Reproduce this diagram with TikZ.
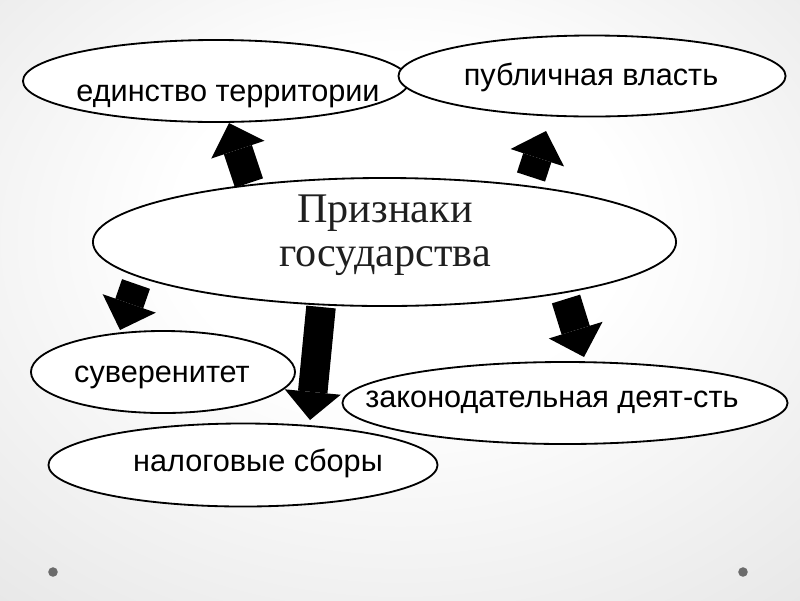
\documentclass[tikz,border=0pt]{standalone}
\usepackage{fontspec}
\setmainfont{Liberation Sans}
\newfontfamily\titleserif{Liberation Serif}
\usetikzlibrary{shapes.geometric, arrows.meta}

\pgfdeclareradialshading{slidebg}{\pgfpoint{0bp}{8bp}}{color(0bp)=(white); color(14bp)=(white); color(46bp)=(black!12); color(66bp)=(black!17)}

\tikzset{
  oval/.style={ellipse, draw=black, line width=1.3pt, fill=white, inner sep=0pt},
  lbl/.style={anchor=base, inner sep=0pt, font=\fontsize{21.8}{26}\selectfont},
  bigarrow/.style={line width=21pt, -{Triangle[width=40pt, length=20pt, line width=0pt]}}
}

\begin{document}
\begin{tikzpicture}[x=0.025cm, y=-0.025cm]
\useasboundingbox (0,0) rectangle (800,600);
\shade[shading=slidebg] (0,0) rectangle (800,600);
\fill[black!58] (53,572) circle (3.4pt);
\fill[black!58] (743,572) circle (3.4pt);

% ovals
\node[oval, minimum width=9.65cm, minimum height=2.05cm] (terr) at (216,81) {};
\node[oval, minimum width=9.675cm, minimum height=2.025cm] (pub) at (592,76) {};
\node[oval, minimum width=14.575cm, minimum height=3.2cm] (main) at (384.5,242) {};
\node[oval, minimum width=6.6cm, minimum height=2.05cm] (suv) at (163,372) {};
\node[oval, minimum width=11.125cm, minimum height=2.05cm] (zak) at (565,403) {};
\node[oval, minimum width=9.725cm, minimum height=2.075cm] (nal) at (243,465) {};

% texts
\node[lbl] (terrtxt) at (228,101) {единство территории};
\node[lbl] (pubtxt) at (591,85) {публичная власть};
\node[lbl] (suvtxt) at (162,382) {суверенитет};
\node[lbl] (zaktxt) at (552,407) {законодательная деят-сть};
\node[lbl] (naltxt) at (258,471) {налоговые сборы};
\node[align=center, inner sep=0pt, text=black!88, font=\titleserif\fontsize{30}{31}\selectfont] (maintxt) at (385,235) {Признаки\\государства};

% arrows
\coordinate (a1s) at (249,183);
\coordinate (a1e) at (229,123);
\coordinate (a2s) at (531,177);
\coordinate (a2e) at (546,131);
\coordinate (a3s) at (136,284);
\coordinate (a3e) at (120,330);
\coordinate (a4s) at (321,307);
\coordinate (a4e) at (310,420);
\coordinate (a5s) at (566,299);
\coordinate (a5e) at (584,357);
\draw[bigarrow] (a1s) -- (a1e);
\draw[bigarrow] (a2s) -- (a2e);
\draw[bigarrow] (a3s) -- (a3e);
\draw[bigarrow] (a4s) -- (a4e);
\draw[bigarrow] (a5s) -- (a5e);
\end{tikzpicture}
\end{document}
